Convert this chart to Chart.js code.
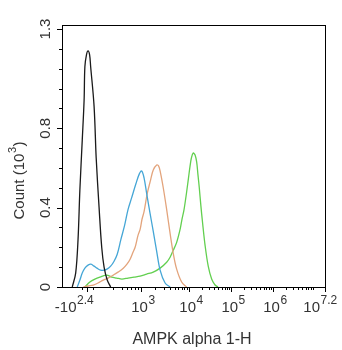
<!DOCTYPE html>
<html>
<head>
<meta charset="utf-8">
<script src="https://cdn.jsdelivr.net/npm/chart.js@4/dist/chart.umd.min.js"></script>
<style>
  html, body { margin: 0; padding: 0; background: #fff; }
  #wrap { width: 342px; height: 350px; position: relative; }
</style>
</head>
<body>
<div id="wrap"><canvas id="histChart"></canvas></div>
<script>
// === Data (x in display channel units, y in counts x 10^3) ===
const blackX = [39, 52, 61, 68, 77, 84, 87, 93, 99, 105, 109, 122, 130, 141, 151, 160, 172, 185];
const blackY = [0, 0.07, 0.24, 0.49, 0.74, 0.94, 1.11, 1.17, 1.19, 1.17, 1.11, 0.91, 0.65, 0.40, 0.20, 0.10, 0.035, 0];

const blueX = [58, 68, 77, 87, 99, 110, 122, 133, 147, 160, 171, 185, 198, 210, 224, 238, 251, 265, 281, 294, 303, 312, 322, 335, 347, 360, 373, 392, 411];
const blueY = [0, 0.035, 0.07, 0.095, 0.11, 0.115, 0.105, 0.095, 0.085, 0.085, 0.09, 0.105, 0.13, 0.165, 0.24, 0.31, 0.39, 0.45, 0.52, 0.57, 0.585, 0.55, 0.47, 0.37, 0.28, 0.18, 0.085, 0.02, 0];

const orangeX = [81, 99, 119, 137, 157, 175, 195, 213, 233, 247, 259, 270, 278, 289, 297, 304, 312, 324, 337, 347, 360, 367, 373, 385, 398, 411, 423, 436, 455, 474];
const orangeY = [0, 0.005, 0.01, 0.02, 0.035, 0.045, 0.06, 0.075, 0.095, 0.115, 0.14, 0.175, 0.2, 0.26, 0.29, 0.34, 0.38, 0.47, 0.54, 0.59, 0.615, 0.61, 0.585, 0.5, 0.39, 0.27, 0.17, 0.09, 0.025, 0];

const greenX = [87, 106, 125, 144, 170, 189, 208, 228, 251, 274, 297, 322, 347, 373, 398, 411, 423, 436, 449, 456, 464, 474, 481, 487, 492, 499, 506, 512, 517, 522, 528, 534, 544, 556, 569, 582, 593];
const greenY = [0, 0.025, 0.04, 0.05, 0.06, 0.05, 0.045, 0.04, 0.045, 0.05, 0.055, 0.065, 0.075, 0.095, 0.125, 0.15, 0.185, 0.225, 0.29, 0.34, 0.39, 0.48, 0.55, 0.61, 0.65, 0.675, 0.665, 0.63, 0.565, 0.5, 0.41, 0.33, 0.21, 0.105, 0.04, 0.01, 0];

// axis ticks
const xTickPos = [95, 300, 483, 643, 802, 1000];
const xTickBase = ["-10", "10", "10", "10", "10", "10"];
const xTickExp = ["2.4", "3", "4", "5", "6", "7.2"];
const xLowMinor = [76, 118, 194, 228, 247, 262, 278, 289];
const xDecades = [300, 483, 643, 802, 962];

const yTickPos = [0, 0.4, 0.8, 1.3];
const yTickLabels = ["0", "0.4", "0.8", "1.3"];

const xTitle = "AMPK alpha 1-H";

function pts(xs, ys) {
  return xs.map((x, i) => ({ x: x, y: ys[i] }));
}

// log minor ticks between decades
const xMinor = xLowMinor.slice();
for (let d = 0; d < xDecades.length - 1; d++) {
  const w = xDecades[d + 1] - xDecades[d];
  for (let m = 2; m <= 9; m++) xMinor.push(xDecades[d] + w * Math.log10(m));
}
for (let m = 2; m <= 9; m++) {
  const p = xDecades[4] + 160 * Math.log10(m);
  if (p < 1000) xMinor.push(p);
}

const FONT = "'Liberation Sans', Arial, sans-serif";
const TXT = "#333";

// draw "base" with a raised exponent, centred at x
function drawPow(c, base, exp, x, y, size, expSize) {
  c.font = size + "px " + FONT;
  const wb = c.measureText(base).width;
  c.font = expSize + "px " + FONT;
  const we = c.measureText(exp).width;
  let sx = x - (wb + we) / 2;
  c.textAlign = "left";
  c.font = size + "px " + FONT;
  c.fillText(base, sx, y);
  c.font = expSize + "px " + FONT;
  c.fillText(exp, sx + wb + 0.5, y - Math.round(size * 0.55));
}

const axesPlugin = {
  id: "flowAxes",
  afterDraw(chart) {
    const c = chart.ctx;
    const a = chart.chartArea;
    const xs = chart.scales.x, ys = chart.scales.y;
    c.save();
    c.strokeStyle = "#000";
    c.lineWidth = 1;
    c.strokeRect(a.left + 0.5, a.top + 0.5, a.right - a.left, a.bottom - a.top);

    // x ticks
    c.beginPath();
    xTickPos.forEach(v => {
      const px = Math.round(xs.getPixelForValue(v)) + 0.5;
      c.moveTo(px, a.bottom); c.lineTo(px, a.bottom + 5);
    });
    xMinor.forEach(v => {
      const px = Math.round(xs.getPixelForValue(v)) + 0.5;
      c.moveTo(px, a.bottom); c.lineTo(px, a.bottom + 3);
    });
    // y ticks
    for (let i = 0; i <= 13; i++) {
      const py = Math.round(ys.getPixelForValue(i / 10)) + 0.5;
      const major = yTickPos.indexOf(Math.round(i) / 10) >= 0;
      c.moveTo(a.left, py); c.lineTo(a.left - (major ? 5 : 3), py);
    }
    c.stroke();

    // x tick labels
    c.fillStyle = TXT;
    c.textBaseline = "alphabetic";
    const shift = [-13, 2, 2, 2, 2, -5];
    xTickPos.forEach((v, i) => {
      const px = xs.getPixelForValue(v) + shift[i];
      drawPow(c, xTickBase[i], xTickExp[i], px, 312, 15, 12);
    });

    // y tick labels (rotated)
    yTickPos.forEach((v, i) => {
      const py = ys.getPixelForValue(v);
      c.save();
      c.translate(46, py);
      c.rotate(-Math.PI / 2);
      c.textAlign = "center";
      c.textBaseline = "middle";
      c.font = "15px " + FONT;
      c.fillText(yTickLabels[i], 0, 0);
      c.restore();
    });

    // y title
    c.save();
    c.translate(24, (a.top + a.bottom) / 2 + 25);
    c.rotate(-Math.PI / 2);
    c.textBaseline = "alphabetic";
    c.font = "15px " + FONT;
    const w1 = c.measureText("Count (10").width;
    c.font = "11px " + FONT;
    const w2 = c.measureText("3").width;
    c.font = "15px " + FONT;
    const w3 = c.measureText(")").width;
    let sx = -(w1 + w2 + w3) / 2;
    c.textAlign = "left";
    c.fillText("Count (10", sx, 0);
    c.font = "11px " + FONT;
    c.fillText("3", sx + w1 + 0.5, -8);
    c.font = "15px " + FONT;
    c.fillText(")", sx + w1 + w2 + 1, 0);
    c.restore();

    // x title
    c.textAlign = "center";
    c.font = "16px " + FONT;
    c.fillText(xTitle, 192, 344);
    c.restore();
  }
};

const ctx = document.getElementById("histChart").getContext("2d");

const lineStyle = (color) => ({
  borderColor: color,
  backgroundColor: color,
  borderWidth: 1.3,
  pointRadius: 0,
  tension: 0.35,
  fill: false
});

const chart = new Chart(ctx, {
  type: "line",
  data: {
    datasets: [
      { label: "black", data: pts(blackX, blackY), ...lineStyle("#1a1a1a") },
      { label: "blue", data: pts(blueX, blueY), ...lineStyle("#45a6d6") },
      { label: "orange", data: pts(orangeX, orangeY), ...lineStyle("#e3a47c") },
      { label: "green", data: pts(greenX, greenY), ...lineStyle("#62cf4f") }
    ]
  },
  options: {
    responsive: true,
    maintainAspectRatio: false,
    animation: false,
    layout: { padding: { left: 62, top: 25, right: 17, bottom: 63 } },
    plugins: {
      legend: { display: false },
      tooltip: { enabled: false }
    },
    scales: {
      x: { type: "linear", min: 0, max: 1000, display: false },
      y: { type: "linear", min: 0, max: 1.32, display: false }
    }
  },
  plugins: [axesPlugin]
});
</script>
</body>
</html>
